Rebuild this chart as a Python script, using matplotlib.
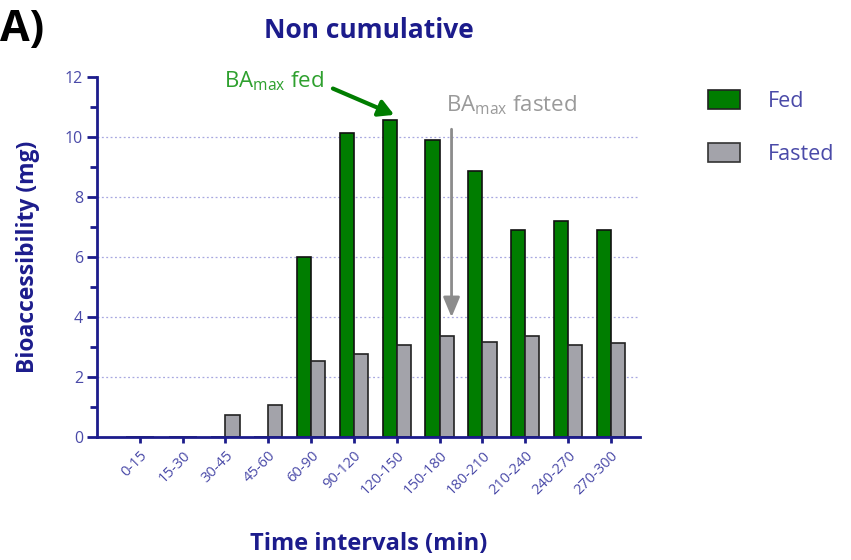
import matplotlib
matplotlib.use("Agg")
import matplotlib.pyplot as plt
import numpy as np
from matplotlib.patches import Patch

intervals = ["0-15", "15-30", "30-45", "45-60", "60-90", "90-120", "120-150",
             "150-180", "180-210", "210-240", "240-270", "270-300"]
fed = [0, 0, 0, 0, 6.0, 10.12, 10.55, 9.91, 8.88, 6.91, 7.19, 6.91]
fasted = [0, 0, 0.73, 1.07, 2.55, 2.77, 3.08, 3.36, 3.18, 3.36, 3.08, 3.13]

NAVY = "#1c1c8c"
SLATE = "#4a4aa8"
GREEN = "#007d00"
GREY = "#a3a3aa"
FONT = ["Open Sans", "DejaVu Sans"]
plt.rcParams["font.family"] = FONT

fig = plt.figure(figsize=(8.51, 5.60), dpi=100)
ax = fig.add_axes([0.114, 0.2196, 0.638, 0.643])

x = np.arange(len(intervals))
w = 0.33
ax.bar(x - w / 2, fed, width=w, color=GREEN, edgecolor="#111111", linewidth=1.2, zorder=2)
ax.bar(x + w / 2, fasted, width=w, color=GREY, edgecolor="#222222", linewidth=1.2, zorder=2)

ax.set_xlim(-1.0, 11.68)
ax.set_ylim(0, 12)
ax.set_yticks(np.arange(0, 13, 2))
ax.set_yticks(np.arange(1, 12, 2), minor=True)
for yv in range(2, 12, 2):
    ax.axhline(yv, color="#a8a8e0", linestyle=(0, (1.5, 2)), linewidth=0.9, zorder=1)

ax.set_xticks(x)
ax.set_xticklabels(intervals, rotation=45, ha="right", rotation_mode="anchor",
                   fontsize=10.5, color=SLATE)
for lab in ax.get_yticklabels():
    lab.set_color(SLATE)
    lab.set_fontsize(11.5)

for s in ["top", "right"]:
    ax.spines[s].set_visible(False)
for s in ["left", "bottom"]:
    ax.spines[s].set_color(NAVY)
    ax.spines[s].set_linewidth(2)
    ax.spines[s].set_zorder(4)
ax.tick_params(axis="y", which="major", length=7, width=2, color=NAVY, pad=3)
ax.tick_params(axis="y", which="minor", length=5, width=2, color=NAVY)
ax.tick_params(axis="x", length=4, width=2, color=NAVY, pad=4)

ax.set_ylabel("Bioaccessibility (mg)", fontsize=16.5, fontweight="bold", color=NAVY, labelpad=18)
ax.set_xlabel("Time intervals (min)", fontsize=17, fontweight="bold", color=NAVY, labelpad=25)
ax.set_title("Non cumulative", fontsize=19, fontweight="bold", color=NAVY, pad=28)

fig.text(0.0, 0.985, "A)", fontsize=31, fontweight="bold", color="black", va="top", ha="left")

# peak annotations
ax.annotate("", xy=(6.0, 10.7), xytext=(4.45, 11.65),
            arrowprops=dict(arrowstyle="-|>,head_length=0.9,head_width=0.5",
                            color=GREEN, lw=3), annotation_clip=False)
ax.text(4.3, 11.85, "BA$_{\\mathregular{max}}$ fed", color="#2ea02e", fontsize=16,
        ha="right", va="center")
ax.annotate("", xy=(7.28, 3.9), xytext=(7.28, 10.35),
            arrowprops=dict(arrowstyle="-|>,head_length=1.2,head_width=0.5",
                            color="#8c8c8c", lw=2), annotation_clip=False)
ax.text(7.15, 11.05, "BA$_{\\mathregular{max}}$ fasted", color="#9a9a9a", fontsize=16,
        ha="left", va="center")

handles = [Patch(facecolor=GREEN, edgecolor="#222222", linewidth=1.2),
           Patch(facecolor=GREY, edgecolor="#333333", linewidth=1.2)]
leg = fig.legend(handles, ["Fed", "Fasted"], loc="upper left",
                 bbox_to_anchor=(0.832, 0.84), frameon=False, fontsize=15.5,
                 borderpad=0, borderaxespad=0,
                 handlelength=1.5, handleheight=1.0, labelspacing=1.45, handletextpad=1.3)
for t in leg.get_texts():
    t.set_color(SLATE)

fig.savefig("out.png", dpi=100)
